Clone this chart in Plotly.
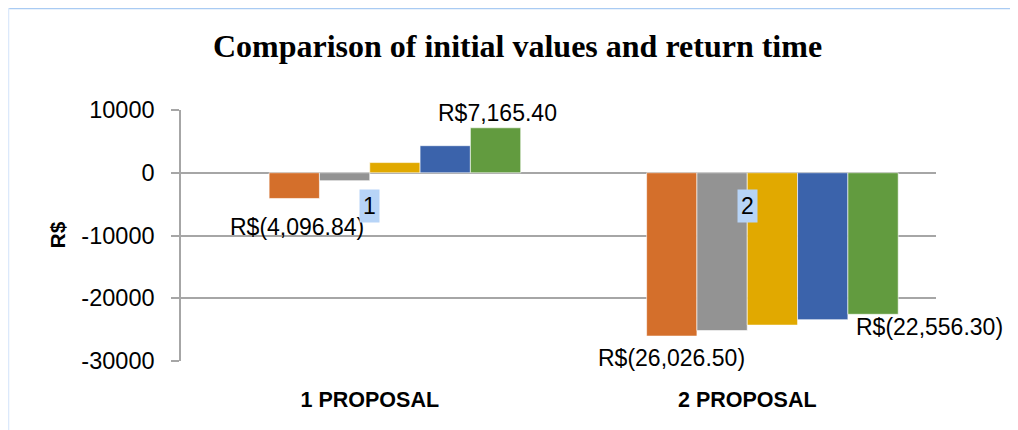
import plotly.graph_objects as go

# ---- data ----
categories = ["1 PROPOSAL", "2 PROPOSAL"]
series_names = ["Series A", "Series B", "Series C", "Series D", "Series E"]
series_orange = [-4096.84, -26026.50]
series_gray = [-1260.0, -25150.0]
series_yellow = [1620.0, -24280.0]
series_blue = [4310.0, -23410.0]
series_green = [7165.40, -22556.30]
category_numbers = ["1", "2"]
y_ticks = [10000, 0, -10000, -20000, -30000]
y_tick_labels = ["10000", "0", "-10000", "-20000", "-30000"]

# ---- styles ----
colors = ["#D46F2B", "#939393", "#E1A900", "#3B63AB", "#629B3F"]
all_series = [series_orange, series_gray, series_yellow, series_blue, series_green]

OFF = 8  # page body margin in the browser
W, H = 1018 - OFF, 430 - OFF
L, R, T, B = 181 - OFF, 936 - OFF, 110 - OFF, 361 - OFF
bar_w = 0.1333

fig = go.Figure()
for i, (name, vals, col) in enumerate(zip(series_names, all_series, colors)):
    fig.add_trace(go.Bar(
        x=categories, y=vals, name=name,
        marker=dict(color=col, line=dict(color="rgba(255,255,255,0.6)", width=1)),
        width=bar_w, offset=(i - 2) * bar_w,
        showlegend=False,
    ))


def fmt(v):
    s = "{:,.2f}".format(abs(v))
    return "R$(" + s + ")" if v < 0 else "R$" + s


label_font = dict(family="Liberation Sans, Arial, sans-serif", size=23, color="#000000")
# data labels (first and last series), positioned as in the original chart
label_specs = [
    (0, series_orange, -73, -29),
    (0, series_green, 128, 15),
    (1, series_orange, -76, -22),
    (1, series_green, 182, -13),
]
for ci, vals, xs, ys in label_specs:
    fig.add_annotation(x=categories[ci], y=vals[ci], text=fmt(vals[ci]),
                       showarrow=False, xshift=xs, yshift=ys, font=label_font,
                       xanchor="center", yanchor="middle")

# category number labels (highlighted)
for ci, t in enumerate(category_numbers):
    fig.add_annotation(x=categories[ci], y=-5350, text=t, showarrow=False,
                       font=label_font, bgcolor="#B7D4F7", borderpad=3,
                       xanchor="center", yanchor="middle")

pw, ph = R - L, B - T
def px_x(x):
    return (x - OFF - L) / pw
def px_y(y):
    return (B - (y - OFF)) / ph

# y axis title
fig.add_annotation(xref="paper", yref="y", x=px_x(57), y=-10000,
                   text="<b>R$</b>", textangle=-90, showarrow=False,
                   font=dict(family="Liberation Sans, Arial, sans-serif", size=21, color="#000"),
                   xanchor="center", yanchor="middle")

# outer chart border (top and left edges visible)
fig.add_shape(type="line", xref="paper", yref="paper",
              x0=px_x(8), x1=px_x(1030), y0=px_y(8.3), y1=px_y(8.3),
              line=dict(color="#A9CBF3", width=2))
fig.add_shape(type="line", xref="paper", yref="paper",
              x0=px_x(8.3), x1=px_x(8.3), y0=px_y(8), y1=px_y(440),
              line=dict(color="#DCE9FB", width=2))

fig.update_layout(
    width=W, height=H,
    margin=dict(l=L, r=W - R, t=T, b=H - B, pad=0),
    paper_bgcolor="white", plot_bgcolor="white",
    barmode="overlay",
    title=dict(text="<b>Comparison of initial values and return time</b>",
               x=(517.5 - OFF) / W, xanchor="center", xref="container",
               y=1 - (46 - OFF) / H, yanchor="middle", yref="container",
               font=dict(family="Liberation Serif, Times New Roman, serif", size=32, color="#000")),
    xaxis=dict(type="category", range=[-0.5, 1.5], showgrid=False, zeroline=False,
               showline=False, ticks="",
               tickfont=dict(family="Liberation Sans, Arial, sans-serif", size=21.5, color="#000"),
               tickprefix="<b>", ticksuffix="</b>", ticklabelstandoff=23),
    yaxis=dict(range=[-30000, 10000], tickvals=y_ticks, ticktext=y_tick_labels, showgrid=True,
               gridcolor="#A6A6A6", gridwidth=1.5, zeroline=True, zerolinecolor="#A6A6A6",
               zerolinewidth=1.5, showline=True, linecolor="#A6A6A6", linewidth=1.5,
               ticks="outside", ticklen=8, tickcolor="#A6A6A6", tickwidth=1.5,
               tickfont=dict(family="Liberation Sans, Arial, sans-serif", size=23.5, color="#000"),
               ticklabelstandoff=12),
)

fig.write_html("out.html")
